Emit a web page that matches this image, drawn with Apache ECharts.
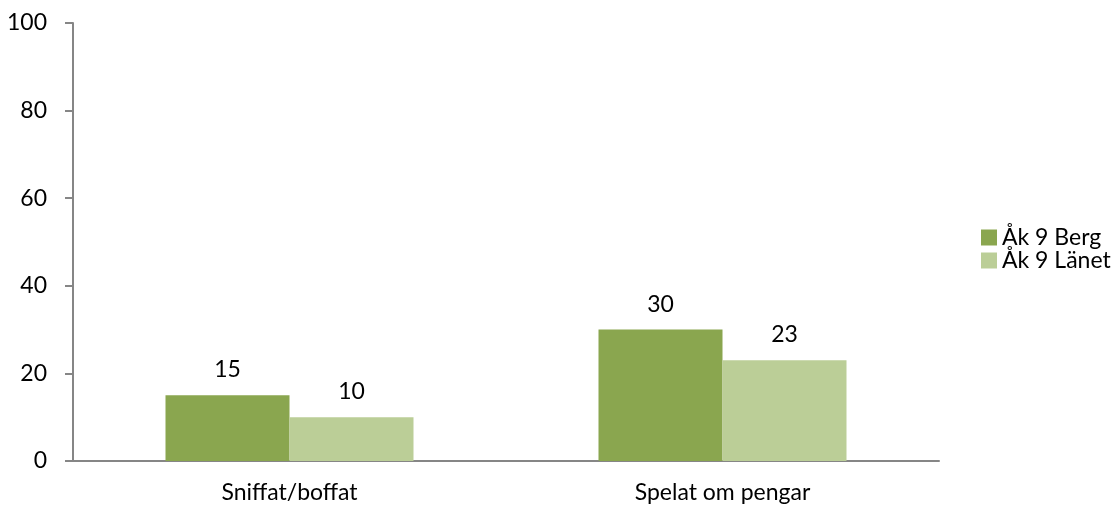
<!DOCTYPE html>
<html>
<head>
<meta charset="utf-8">
<script src="https://cdn.jsdelivr.net/npm/echarts@6/dist/echarts.min.js"></script>
<style>
  html, body { margin: 0; padding: 0; background: #fff; }
  #chart { width: 1117px; height: 509px; }
</style>
</head>
<body>
<div id="chart"></div>
<script>
const categories = ['Sniffat/boffat', 'Spelat om pengar']
const bergValues = [15, 30]
const lanetValues = [10, 23]
const seriesNames = ['Åk 9 Berg', 'Åk 9 Länet']

const font = 'Lato, "Open Sans", sans-serif'
const chart = echarts.init(document.getElementById('chart'), null, { renderer: 'canvas' })

const labelStyle = {
  show: true,
  position: 'top',
  distance: 14,
  color: '#000',
  fontSize: 23,
  fontFamily: font
}

const option = {
  backgroundColor: '#ffffff',
  animation: false,
  grid: {
    left: 73,
    right: 178,
    top: 23,
    bottom: 48
  },
  legend: {
    orient: 'vertical',
    left: 981,
    top: 226,
    padding: 0,
    itemWidth: 16,
    itemHeight: 16,
    itemGap: 0,
    icon: 'rect',
    textStyle: { color: '#000', fontSize: 23, fontFamily: font },
    data: seriesNames
  },
  xAxis: {
    type: 'category',
    data: categories,
    axisLine: { lineStyle: { color: '#868686', width: 2 } },
    axisTick: { show: false },
    axisLabel: { color: '#000', fontSize: 23, fontFamily: font, margin: 20 }
  },
  yAxis: {
    type: 'value',
    min: 0,
    max: 100,
    interval: 20,
    axisLine: { show: true, lineStyle: { color: '#868686', width: 2 } },
    axisTick: { show: true, length: 8, lineStyle: { color: '#868686', width: 2 } },
    splitLine: { show: false },
    axisLabel: { color: '#000', fontSize: 23, fontFamily: font, margin: 26 }
  },
  series: [
    {
      name: seriesNames[0],
      type: 'bar',
      data: bergValues,
      barWidth: 124,
      barGap: '0%',
      itemStyle: { color: '#8AA64F' },
      label: labelStyle
    },
    {
      name: seriesNames[1],
      type: 'bar',
      data: lanetValues,
      barWidth: 124,
      barGap: '0%',
      itemStyle: { color: '#BBCE97' },
      label: labelStyle
    }
  ]
}

chart.setOption(option)
</script>
</body>
</html>
